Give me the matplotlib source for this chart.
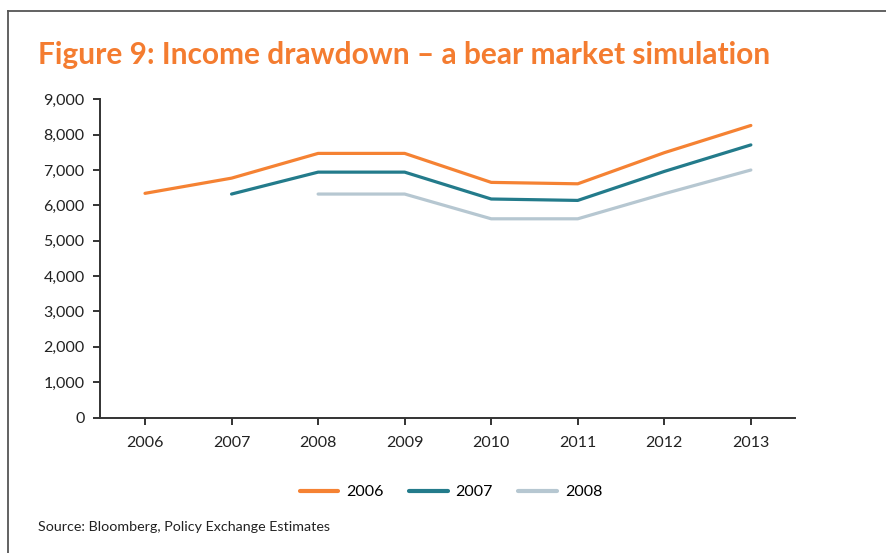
import matplotlib
matplotlib.use("Agg")
import matplotlib.pyplot as plt
from matplotlib.lines import Line2D
import numpy as np

years = ["2006", "2007", "2008", "2009", "2010", "2011", "2012", "2013"]
series_names = ["2006", "2007", "2008"]
income_2006 = [6340, 6770, 7470, 7470, 6650, 6610, 7490, 8260]
income_2007 = [None, 6320, 6940, 6940, 6180, 6140, 6960, 7710]
income_2008 = [None, None, 6320, 6320, 5620, 5620, 6330, 7000]
colors = ["#F58233", "#237B8B", "#B6C7D1"]
y_ticks = [0, 1000, 2000, 3000, 4000, 5000, 6000, 7000, 8000, 9000]

plt.rcParams["font.family"] = ["Lato", "DejaVu Sans"]

W, H = 887, 553
fig = plt.figure(figsize=(W / 100, H / 100), dpi=100)

ax = fig.add_axes([100 / W, 1 - 417.5 / H, (795 - 100) / W, (417.5 - 99.3) / H])
x = np.arange(len(years))
for name, vals, c in zip(series_names, [income_2006, income_2007, income_2008], colors):
    v = np.array([np.nan if val is None else val for val in vals], dtype=float)
    ax.plot(x, v, color=c, lw=2.3, solid_capstyle="round", solid_joinstyle="round", label=name)

ax.set_xlim(-0.52, 7.51)
ax.set_ylim(0, 9000)
ax.set_xticks(x)
ax.set_xticklabels(years)
ax.set_yticks(y_ticks)
ax.set_yticklabels([f"{t:,}" for t in y_ticks])
for s in ["top", "right"]:
    ax.spines[s].set_visible(False)
for s in ["left", "bottom"]:
    ax.spines[s].set_color("#333333")
    ax.spines[s].set_linewidth(1.4)
ax.tick_params(axis="both", colors="#333333", width=1.4, length=5, labelsize=11.5, labelcolor="#222222")
ax.tick_params(axis="x", pad=8)
ax.tick_params(axis="y", pad=6)

leg = fig.legend(loc="center", bbox_to_anchor=(451 / W, 1 - 492 / H), ncol=3, frameon=False,
                 fontsize=11.5, handlelength=2.4, columnspacing=1.6, handletextpad=0.5)
for h in leg.get_lines():
    h.set_linewidth(3)

fig.text(38 / W, 1 - 64 / H, "Figure 9: Income drawdown \u2013 a bear market simulation",
         color="#F47C30", fontsize=21.5, fontweight="bold", ha="left", va="baseline")
fig.text(38 / W, 1 - 527 / H, "Source: Bloomberg, Policy Exchange Estimates",
         color="#222222", fontsize=10.3, ha="left", va="center")

# outer frame: top and left edges
fig.add_artist(Line2D([8 / W, 1], [1 - 10.5 / H, 1 - 10.5 / H], color="#555555", lw=1.3,
                      transform=fig.transFigure))
fig.add_artist(Line2D([8 / W, 8 / W], [0, 1 - 10.5 / H], color="#555555", lw=1.3,
                      transform=fig.transFigure))

fig.savefig("out.png", dpi=100)
